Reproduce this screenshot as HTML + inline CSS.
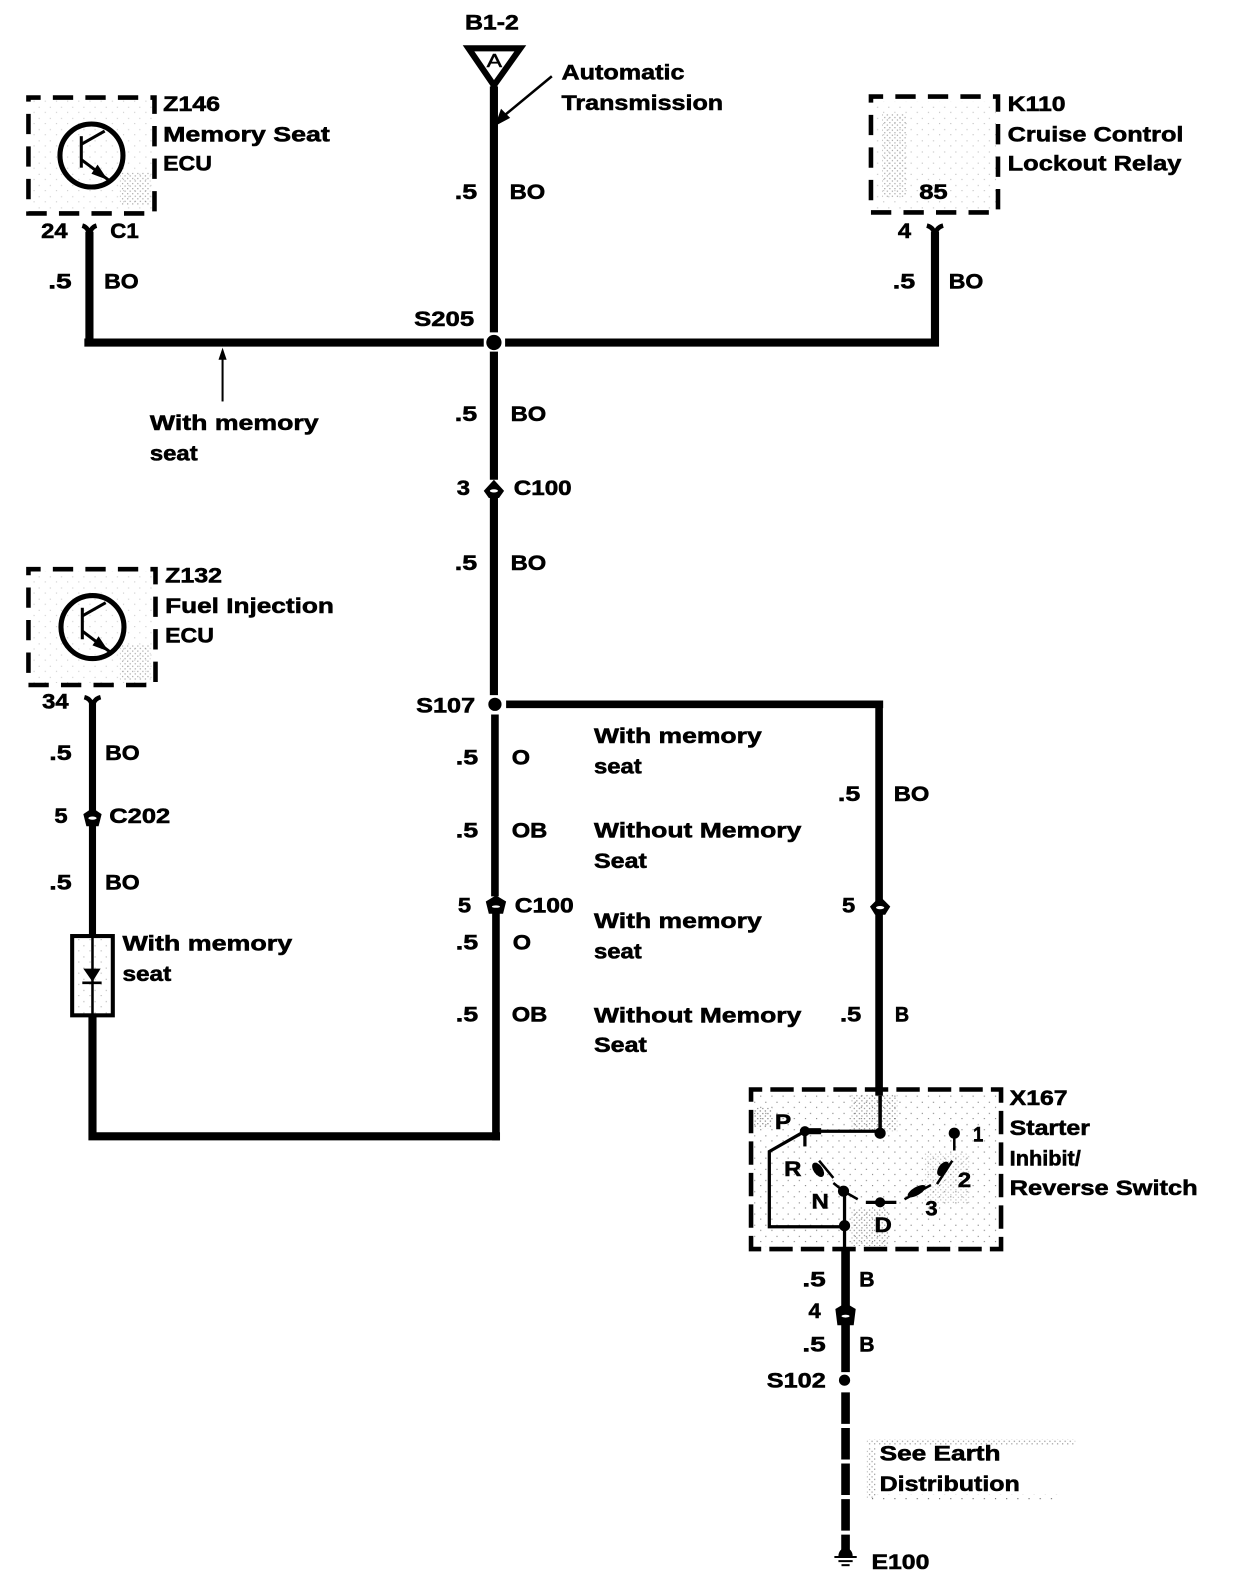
<!DOCTYPE html>
<html>
<head>
<meta charset="utf-8">
<style>
html,body{margin:0;padding:0;background:#fff;}
svg{display:block;}
text{font-family:"Liberation Sans",sans-serif;font-weight:bold;font-size:21px;fill:#000;stroke:#000;stroke-width:.55px;}
</style>
</head>
<body>
<svg xmlns="http://www.w3.org/2000/svg" width="1248" height="1592" viewBox="0 0 1228 1566.4" preserveAspectRatio="none">
<defs>
<pattern id="st" width="5" height="5" patternUnits="userSpaceOnUse"><rect width="1.2" height="1.2" fill="#000"/><rect x="2.5" y="2.5" width="1.2" height="1.2" fill="#000"/></pattern>
<pattern id="st2" width="11" height="11" patternUnits="userSpaceOnUse"><rect width="1.1" height="1.1" fill="#000"/><rect x="5" y="6" width="1.1" height="1.1" fill="#000"/></pattern>
</defs>
<rect width="1228" height="1567" fill="#fff"/>

<!-- stipple -->
<g>
<rect x="30" y="98" width="120" height="110" fill="url(#st2)" opacity=".2"/>
<rect x="118" y="170" width="30" height="32" fill="url(#st)" opacity=".35"/>
<rect x="860" y="100" width="120" height="108" fill="url(#st2)" opacity=".25"/>
<rect x="868" y="112" width="24" height="82" fill="url(#st)" opacity=".35"/>
<rect x="30" y="562" width="122" height="110" fill="url(#st2)" opacity=".2"/>
<rect x="118" y="635" width="30" height="34" fill="url(#st)" opacity=".35"/>
<rect x="742" y="1075" width="240" height="152" fill="url(#st2)" opacity=".5"/>
<rect x="838" y="1077" width="45" height="36" fill="url(#st)" opacity=".45"/>
<rect x="838" y="1190" width="36" height="36" fill="url(#st)" opacity=".45"/>
<rect x="742" y="1090" width="18" height="20" fill="url(#st)" opacity=".5"/>
<rect x="910" y="1135" width="45" height="50" fill="url(#st)" opacity=".25"/>
<rect x="853" y="1416" width="205" height="6" fill="url(#st)" opacity=".4"/>
<rect x="853" y="1424" width="9" height="50" fill="url(#st)" opacity=".4"/>
<rect x="853" y="1470" width="190" height="6" fill="url(#st2)" opacity=".6"/>
<rect x="72" y="922" width="38" height="76" fill="url(#st2)" opacity=".3"/>
</g>

<!-- dashed boxes -->
<g fill="none" stroke="#000" stroke-width="4.5">
<rect x="28" y="96" width="124" height="114" stroke-dasharray="20 12" stroke-dashoffset="8"/>
<rect x="857" y="95" width="125" height="114" stroke-dasharray="20 12" stroke-dashoffset="8"/>
<rect x="28" y="560" width="125" height="114" stroke-dasharray="20 12" stroke-dashoffset="8"/>
<rect x="739" y="1072" width="246" height="157" stroke-dasharray="23 8" stroke-dashoffset="12"/>
</g>

<!-- main wires -->
<g fill="none" stroke="#000" stroke-linecap="butt">
<path d="M486 85V327M486 346V472M486 490V684" stroke-width="8"/>
<path d="M487 703V882M488 898V1122" stroke-width="7.5"/>
<path d="M88 228V340M83 337H476M497 337H924M920 337V228" stroke-width="8"/>
<path d="M91 692V921" stroke-width="7"/>
<path d="M91 1000V1118H492" stroke-width="8"/>
<path d="M498 693H869M865 690V1078" stroke-width="7.5"/>
<path d="M832 1228V1350" stroke-width="8.5"/>
<path d="M832 1370V1525" stroke-width="8.5" stroke-dasharray="31 4"/>
</g>

<!-- splices -->
<g fill="#000">
<circle cx="486" cy="337" r="7.5"/>
<circle cx="487" cy="693" r="6.5"/>
<circle cx="831" cy="1358" r="5.5"/>
</g>

<!-- top connector -->
<path d="M461 47.5H512L486 84Z" fill="#fff" stroke="#000" stroke-width="6"/>
<text x="479" y="66" textLength="15" lengthAdjust="spacingAndGlyphs" style="font-size:18px;font-weight:normal;">A</text>
<path d="M543 75L491 118" stroke="#000" stroke-width="2.5" fill="none"/>
<path d="M487 124L493 107L502 116Z" fill="#000"/>
<path d="M219 395V347" stroke="#000" stroke-width="2"/>
<path d="M219 342L215 354H223Z" fill="#000"/>

<!-- Y connectors -->
<g fill="none" stroke="#000" stroke-width="4.5">
<path d="M81 222Q88 224 88 234Q88 224 95 222"/>
<path d="M912 222Q920 224 920 234Q920 224 928 222"/>
<path d="M83 686Q91 688 91 698Q91 688 99 686"/>
</g>

<!-- inline connectors -->
<g fill="#000">
<path d="M486 472L496 483L491 490H481L476 483Z"/>
<path d="M91 795L100 801L97 813H85L82 801Z"/>
<path d="M488 881L498 887L495 899H481L478 887Z"/>
<path d="M866 882L876 892L871 900H861L856 892Z"/>
<path d="M832 1282L842 1288L840 1304H824L822 1288Z"/>
</g>
<g fill="#fff">
<ellipse cx="486" cy="483" rx="4" ry="1.6"/>
<ellipse cx="91" cy="805" rx="4" ry="1.6"/>
<ellipse cx="488" cy="892" rx="4" ry="1.2"/>
<ellipse cx="866" cy="893" rx="4" ry="1.6"/>
<ellipse cx="832" cy="1295" rx="4" ry="1.4"/>
</g>

<!-- transistors -->
<g fill="none" stroke="#000">
<circle cx="90" cy="153" r="31" stroke-width="5"/>
<path d="M80 134V165" stroke-width="3"/>
<path d="M80 142L103 129" stroke-width="3"/>
<path d="M80 157L108 178" stroke-width="3"/>
<circle cx="91" cy="617" r="31" stroke-width="5"/>
<path d="M81 598V629" stroke-width="3"/>
<path d="M81 606L104 593" stroke-width="3"/>
<path d="M81 621L109 642" stroke-width="3"/>
</g>
<path d="M106 177L90 171L96 162Z" fill="#000"/>
<path d="M107 641L91 635L97 626Z" fill="#000"/>

<!-- diode block -->
<rect x="71" y="921" width="40" height="78" fill="none" stroke="#000" stroke-width="4"/>
<path d="M91 921V1000" stroke="#000" stroke-width="2.5"/>
<path d="M82 953H99L91 966Z" fill="#000"/>
<path d="M81 967H100" stroke="#000" stroke-width="2.5"/>

<!-- switch -->
<g fill="none" stroke="#000" stroke-width="3.2">
<path d="M866 1078V1115" stroke-width="3.5"/>
<path d="M792 1113H866"/>
<path d="M792 1113L757 1133V1207H831"/>
<path d="M831 1172V1230" />
<path d="M792 1113V1128"/>
<path d="M806 1142L820 1159" stroke-width="2.5"/>
<path d="M820 1164L830 1172L844 1180" stroke-width="2.5"/>
<path d="M852 1183H882"/>
<path d="M890 1180L916 1166" stroke-width="2.5"/>
<path d="M922 1165L937 1142" stroke-width="2.5"/>
<path d="M939 1115V1132" stroke-width="2.5"/>
</g>
<g fill="#000">
<circle cx="866" cy="1115" r="5.5"/>
<circle cx="792" cy="1113" r="5"/>
<rect x="796" y="1110" width="12" height="6"/>
<circle cx="939" cy="1115" r="5.5"/>
<ellipse cx="928" cy="1150" rx="4.5" ry="8" transform="rotate(35 928 1150)"/>
<ellipse cx="902" cy="1172" rx="4" ry="10" transform="rotate(60 902 1172)"/>
<ellipse cx="866" cy="1183" rx="5" ry="5"/>
<circle cx="830" cy="1172" r="5.5"/>
<circle cx="831" cy="1206" r="5.5"/>
<ellipse cx="805" cy="1151" rx="4.5" ry="8" transform="rotate(-35 805 1151)"/>
</g>

<!-- ground -->
<path d="M825 1531A7 8 0 0 1 839 1531Z" fill="#000"/>
<path d="M821 1532H843M825 1536H839" stroke="#000" stroke-width="2"/>
<path d="M828 1540H836" stroke="#000" stroke-width="2"/>

<!-- labels -->
<g transform="translate(-0.5,-2)">
<text x="458" y="31" textLength="53" lengthAdjust="spacingAndGlyphs">B1-2</text>
<text x="553" y="80" textLength="121" lengthAdjust="spacingAndGlyphs">Automatic</text>
<text x="553" y="110" textLength="159" lengthAdjust="spacingAndGlyphs">Transmission</text>
<text x="161" y="111" textLength="56" lengthAdjust="spacingAndGlyphs">Z146</text>
<text x="161" y="141" textLength="164" lengthAdjust="spacingAndGlyphs">Memory Seat</text>
<text x="161" y="170" textLength="48" lengthAdjust="spacingAndGlyphs">ECU</text>
<text x="992" y="111" textLength="57" lengthAdjust="spacingAndGlyphs">K110</text>
<text x="992" y="141" textLength="173" lengthAdjust="spacingAndGlyphs">Cruise Control</text>
<text x="992" y="170" textLength="171" lengthAdjust="spacingAndGlyphs">Lockout Relay</text>
<text x="905" y="198" textLength="28" lengthAdjust="spacingAndGlyphs">85</text>
<text x="41" y="236" textLength="26" lengthAdjust="spacingAndGlyphs">24</text>
<text x="109" y="236" textLength="28" lengthAdjust="spacingAndGlyphs">C1</text>
<text x="48" y="286" textLength="23" lengthAdjust="spacingAndGlyphs">.5</text>
<text x="103" y="286" textLength="34" lengthAdjust="spacingAndGlyphs">BO</text>
<text x="448" y="198" textLength="22" lengthAdjust="spacingAndGlyphs">.5</text>
<text x="502" y="198" textLength="35" lengthAdjust="spacingAndGlyphs">BO</text>
<text x="884" y="236" textLength="13" lengthAdjust="spacingAndGlyphs">4</text>
<text x="879" y="286" textLength="22" lengthAdjust="spacingAndGlyphs">.5</text>
<text x="934" y="286" textLength="34" lengthAdjust="spacingAndGlyphs">BO</text>
<text x="408" y="323" textLength="59" lengthAdjust="spacingAndGlyphs">S205</text>
<text x="148" y="425" textLength="166" lengthAdjust="spacingAndGlyphs">With memory</text>
<text x="148" y="455" textLength="47" lengthAdjust="spacingAndGlyphs">seat</text>
<text x="448" y="416" textLength="22" lengthAdjust="spacingAndGlyphs">.5</text>
<text x="503" y="416" textLength="35" lengthAdjust="spacingAndGlyphs">BO</text>
<text x="450" y="489" textLength="13" lengthAdjust="spacingAndGlyphs">3</text>
<text x="506" y="489" textLength="57" lengthAdjust="spacingAndGlyphs">C100</text>
<text x="448" y="563" textLength="22" lengthAdjust="spacingAndGlyphs">.5</text>
<text x="503" y="563" textLength="35" lengthAdjust="spacingAndGlyphs">BO</text>
<text x="163" y="575" textLength="56" lengthAdjust="spacingAndGlyphs">Z132</text>
<text x="163" y="605" textLength="166" lengthAdjust="spacingAndGlyphs">Fuel Injection</text>
<text x="163" y="634" textLength="48" lengthAdjust="spacingAndGlyphs">ECU</text>
<text x="42" y="699" textLength="26" lengthAdjust="spacingAndGlyphs">34</text>
<text x="49" y="750" textLength="22" lengthAdjust="spacingAndGlyphs">.5</text>
<text x="104" y="750" textLength="34" lengthAdjust="spacingAndGlyphs">BO</text>
<text x="54" y="812" textLength="13" lengthAdjust="spacingAndGlyphs">5</text>
<text x="108" y="812" textLength="60" lengthAdjust="spacingAndGlyphs">C202</text>
<text x="49" y="877" textLength="22" lengthAdjust="spacingAndGlyphs">.5</text>
<text x="104" y="877" textLength="34" lengthAdjust="spacingAndGlyphs">BO</text>
<text x="121" y="937" textLength="167" lengthAdjust="spacingAndGlyphs">With memory</text>
<text x="121" y="967" textLength="48" lengthAdjust="spacingAndGlyphs">seat</text>
<text x="410" y="703" textLength="58" lengthAdjust="spacingAndGlyphs">S107</text>
<text x="449" y="754" textLength="22" lengthAdjust="spacingAndGlyphs">.5</text>
<text x="504" y="754" textLength="18" lengthAdjust="spacingAndGlyphs">O</text>
<text x="585" y="733" textLength="165" lengthAdjust="spacingAndGlyphs">With memory</text>
<text x="585" y="763" textLength="47" lengthAdjust="spacingAndGlyphs">seat</text>
<text x="449" y="826" textLength="22" lengthAdjust="spacingAndGlyphs">.5</text>
<text x="504" y="826" textLength="35" lengthAdjust="spacingAndGlyphs">OB</text>
<text x="585" y="826" textLength="204" lengthAdjust="spacingAndGlyphs">Without Memory</text>
<text x="585" y="856" textLength="52" lengthAdjust="spacingAndGlyphs">Seat</text>
<text x="451" y="900" textLength="13" lengthAdjust="spacingAndGlyphs">5</text>
<text x="507" y="900" textLength="58" lengthAdjust="spacingAndGlyphs">C100</text>
<text x="449" y="936" textLength="22" lengthAdjust="spacingAndGlyphs">.5</text>
<text x="505" y="936" textLength="18" lengthAdjust="spacingAndGlyphs">O</text>
<text x="585" y="915" textLength="165" lengthAdjust="spacingAndGlyphs">With memory</text>
<text x="585" y="945" textLength="47" lengthAdjust="spacingAndGlyphs">seat</text>
<text x="449" y="1007" textLength="22" lengthAdjust="spacingAndGlyphs">.5</text>
<text x="504" y="1007" textLength="35" lengthAdjust="spacingAndGlyphs">OB</text>
<text x="585" y="1008" textLength="204" lengthAdjust="spacingAndGlyphs">Without Memory</text>
<text x="585" y="1037" textLength="52" lengthAdjust="spacingAndGlyphs">Seat</text>
<text x="825" y="790" textLength="22" lengthAdjust="spacingAndGlyphs">.5</text>
<text x="880" y="790" textLength="35" lengthAdjust="spacingAndGlyphs">BO</text>
<text x="829" y="900" textLength="13" lengthAdjust="spacingAndGlyphs">5</text>
<text x="827" y="1007" textLength="21" lengthAdjust="spacingAndGlyphs">.5</text>
<text x="881" y="1007" textLength="14" lengthAdjust="spacingAndGlyphs">B</text>
<text x="994" y="1089" textLength="57" lengthAdjust="spacingAndGlyphs">X167</text>
<text x="994" y="1119" textLength="79" lengthAdjust="spacingAndGlyphs">Starter</text>
<text x="994" y="1149" textLength="70" lengthAdjust="spacingAndGlyphs">Inhibit/</text>
<text x="994" y="1178" textLength="185" lengthAdjust="spacingAndGlyphs">Reverse Switch</text>
<text x="763" y="1113" textLength="16" lengthAdjust="spacingAndGlyphs">P</text>
<text x="958" y="1125" textLength="10" lengthAdjust="spacingAndGlyphs">1</text>
<text x="772" y="1159" textLength="17" lengthAdjust="spacingAndGlyphs">R</text>
<text x="943" y="1170" textLength="13" lengthAdjust="spacingAndGlyphs">2</text>
<text x="799" y="1191" textLength="17" lengthAdjust="spacingAndGlyphs">N</text>
<text x="911" y="1198" textLength="12" lengthAdjust="spacingAndGlyphs">3</text>
<text x="861" y="1214" textLength="17" lengthAdjust="spacingAndGlyphs">D</text>
<text x="790" y="1268" textLength="23" lengthAdjust="spacingAndGlyphs">.5</text>
<text x="846" y="1268" textLength="15" lengthAdjust="spacingAndGlyphs">B</text>
<text x="796" y="1299" textLength="12" lengthAdjust="spacingAndGlyphs">4</text>
<text x="790" y="1332" textLength="23" lengthAdjust="spacingAndGlyphs">.5</text>
<text x="846" y="1332" textLength="15" lengthAdjust="spacingAndGlyphs">B</text>
<text x="755" y="1367" textLength="58" lengthAdjust="spacingAndGlyphs">S102</text>
<text x="866" y="1439" textLength="119" lengthAdjust="spacingAndGlyphs">See Earth</text>
<text x="866" y="1469" textLength="138" lengthAdjust="spacingAndGlyphs">Distribution</text>
<text x="858" y="1546" textLength="57" lengthAdjust="spacingAndGlyphs">E100</text>
</g>
</svg>
</body>
</html>
